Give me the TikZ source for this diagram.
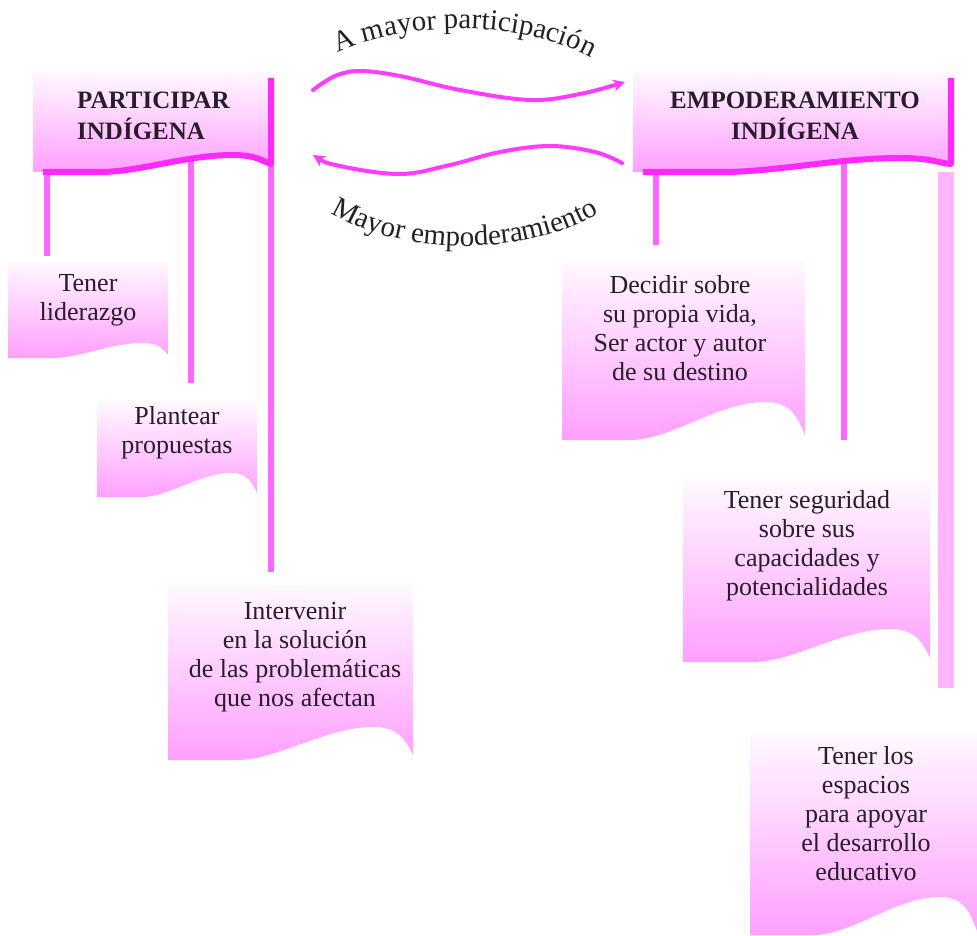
\documentclass[tikz,border=0pt]{standalone}
\usepackage{fontspec}
\setmainfont{Liberation Serif}
\usetikzlibrary{decorations.text,arrows.meta}
\definecolor{pinkB}{RGB}{255,160,255}
\definecolor{pinkT}{RGB}{255,248,255}
\definecolor{connc}{RGB}{255,102,255}
\definecolor{edgec}{RGB}{255,40,255}
\definecolor{wavec}{RGB}{255,60,255}
\definecolor{txtc}{RGB}{40,30,40}
\definecolor{barpink}{RGB}{255,182,255}

\newcommand\wshape[7]{%
  \pgfmathsetmacro\wW{#4-#2}%
  \path[#1] (#2,#3) -- (#4,#3) -- (#4,{#5-#7})
    .. controls ({#4-0.03*\wW},{#5-0.6*#6}) and ({#4-0.06*\wW},{#5-#6}) .. ({#4-0.16*\wW},{#5-#6})
    .. controls ({#4-0.36*\wW},{#5-#6}) and ({#2+0.45*\wW},{#5}) .. ({#2+0.28*\wW},{#5})
    -- (#2,#5) -- cycle;}
\newcommand\wavedgeline[7]{%
  \pgfmathsetmacro\wW{#4-#2}%
  \draw[#1] (#4,{#3+6}) -- (#4,{#5-#7})
    .. controls ({#4-0.03*\wW},{#5-0.6*#6}) and ({#4-0.06*\wW},{#5-#6}) .. ({#4-0.16*\wW},{#5-#6})
    .. controls ({#4-0.36*\wW},{#5-#6}) and ({#2+0.45*\wW},{#5}) .. ({#2+0.28*\wW},{#5})
    -- ({#2+10},#5);}

\tikzset{
  boxfill/.style={top color=pinkT, bottom color=pinkB, draw=none},
  btxt/.style={align=center, text=txtc, inner sep=0pt, font=\fontsize{26}{29}\selectfont},
  htxt/.style={text=txtc, inner sep=0pt, font=\bfseries\fontsize{25}{31}\selectfont},
  connline/.style={draw=connc, line width=6pt},
  edgeline/.style={draw=edgec, line width=6pt, line join=round},
  wavel/.style={draw=wavec, line width=4pt, line cap=round},
}

\begin{document}
\begin{tikzpicture}[x=1pt,y=-1pt]
\useasboundingbox (0,0) rectangle (977,936);
\fill[white] (0,0) rectangle (977,936);

% boxes
\wshape{boxfill}{8}{262}{168}{358}{15}{3}
\wshape{boxfill}{97}{402}{257}{497}{24}{4}
\wshape{boxfill}{168}{585}{413}{760}{33}{5}
\wshape{boxfill}{562}{262}{805}{440}{38}{5}
\wshape{boxfill}{683}{482}{930}{662}{33}{4}
\wshape{boxfill}{750}{735}{977}{935}{38}{4}

% headers
\wshape{boxfill}{33}{72}{271}{172}{17}{8}
\wshape{boxfill}{633}{72}{951}{172}{14}{8}

% connector coordinates
\coordinate (c1a) at (47,172);  \coordinate (c1b) at (47,256);
\coordinate (c2a) at (191,160); \coordinate (c2b) at (191,383);
\coordinate (c3a) at (271,80);  \coordinate (c3b) at (271,572);
\coordinate (c4a) at (656,172); \coordinate (c4b) at (656,245);
\coordinate (c5a) at (844,160); \coordinate (c5b) at (844,440);
\coordinate (c6a) at (946,172); \coordinate (c6b) at (946,688);

\draw[connline] (c1a) -- (c1b);
\draw[connline] (c2a) -- (c2b);
\draw[connline] (c3a) -- (c3b);
\draw[connline] (c4a) -- (c4b);
\draw[connline] (c5a) -- (c5b);
\draw[draw=barpink, line width=16pt] (c6a) -- (c6b);

\wavedgeline{edgeline}{33}{72}{271}{172}{17}{8}
\wavedgeline{edgeline}{633}{72}{951}{172}{14}{8}

% header texts
\node[htxt, anchor=west, align=left] (hl) at (77,116) {PARTICIPAR\\INDÍGENA};
\node[htxt, align=center] (hr) at (795,116) {EMPODERAMIENTO\\INDÍGENA};

% box texts
\node[btxt] (t1) at (88,300) {Tener\\liderazgo};
\node[btxt] (t2) at (177,433) {Plantear\\propuestas};
\node[btxt] (t3) at (295,657) {Intervenir\\en la solución\\de las problemáticas\\que nos afectan};
\node[btxt] (t4) at (680,328) {Decidir sobre\\su propia vida,\\Ser actor y autor\\de su destino};
\node[btxt] (t5) at (807,546) {Tener seguridad\\sobre sus\\capacidades y\\potencialidades};
\node[btxt] (t6) at (866,814) {Tener los\\espacios\\para apoyar\\el desarrollo\\educativo};

% waves
\draw[wavel, -{Stealth[length=12pt,width=12pt]}] plot[smooth, tension=0.6] coordinates {(313,90) (335,76) (360,71) (400,76) (460,90) (530,100) (580,94) (625,82)};
\draw[wavel, {Stealth[length=12pt,width=12pt]}-] plot[smooth, tension=0.6] coordinates {(313,155) (340,166) (400,174) (450,165) (500,152) (550,146) (595,152) (622,163)};

% arc texts
\path[decorate, decoration={text along path, text align=center, text color=txtc,
  text={|\fontsize{29}{30}\selectfont|A mayor participación}}]
  (326,58) .. controls (400,18) and (530,18) .. (602,64);
\path[decorate, decoration={text along path, text align=center, text color=txtc,
  text={|\fontsize{29}{30}\selectfont|Mayor empoderamiento}}]
  (326,210) .. controls (400,258) and (530,258) .. (604,210);
\end{tikzpicture}
\end{document}
